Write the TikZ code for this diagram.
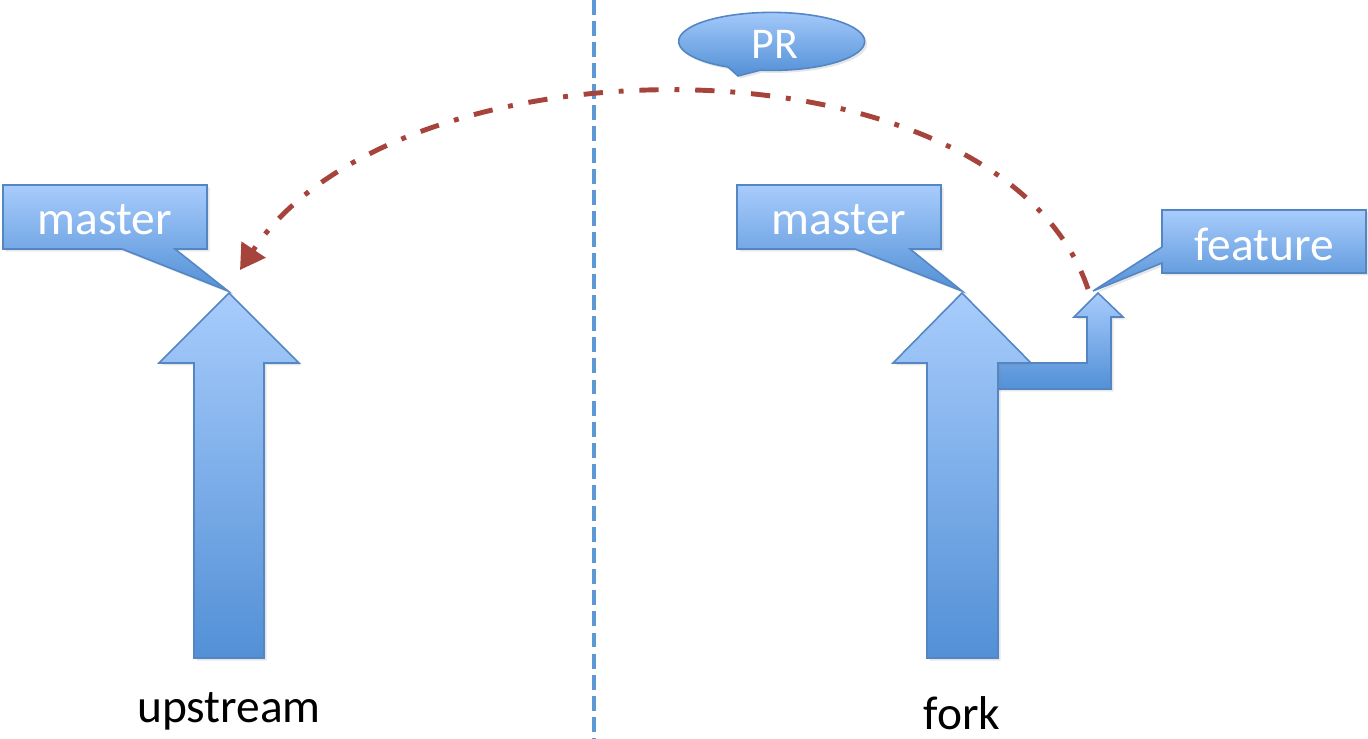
\documentclass[tikz,border=0pt]{standalone}
\usepackage{fontspec}
\setmainfont{Carlito}
\usetikzlibrary{arrows.meta,shadows}

\definecolor{boxtop}{RGB}{168,204,252}
\definecolor{boxbot}{RGB}{82,144,214}
\definecolor{boxline}{RGB}{84,134,196}
\definecolor{prred}{RGB}{166,68,60}
\definecolor{splitblue}{RGB}{92,152,212}

\begin{document}
\begin{tikzpicture}[x=0.02cm,y=-0.02cm,
    blockarrow/.style={top color=boxtop, bottom color=boxbot, draw=boxline, line width=0.9pt, line join=miter,
      drop shadow={opacity=0.2, shadow xshift=0.05cm, shadow yshift=-0.05cm}},
    callout/.style={top color=boxtop, bottom color=boxbot, draw=boxline, line width=0.9pt,
      drop shadow={opacity=0.2, shadow xshift=0.05cm, shadow yshift=-0.05cm}},
    calltext/.style={text=white, inner sep=0pt, font=\fontsize{27}{32}\selectfont},
    caption/.style={text=black, inner sep=0pt, anchor=base, font=\fontsize{27}{32}\selectfont},
    prline/.style={prred, line width=2.8pt, dash pattern=on 11pt off 9pt on 2.8pt off 9pt, -{Triangle[length=14pt,width=16pt]}}]
    \useasboundingbox (0,0) rectangle (1368,739);

    % dividing line between the two repositories
    \draw[splitblue, line width=2.6pt, dash pattern=on 8.5pt off 3.5pt] (594,0) -- (594,739);

    % upstream: master arrow
    \path[blockarrow] (194,658) -- (194,363) -- (159,363) -- (229,293) -- (299,363) -- (264,363) -- (264,658) -- cycle;

    % fork: feature branch (behind), then master arrow
    \path[blockarrow] (990,363) -- (1087,363) -- (1087,317) -- (1074,317) -- (1098,293) -- (1123,317) -- (1111,317) -- (1111,389) -- (990,389) -- cycle;
    \path[blockarrow] (927,658) -- (927,363) -- (893,363) -- (962,293) -- (1031,363) -- (998,363) -- (998,658) -- cycle;

    % callouts
    \path[callout] (3,185) -- (207,185) -- (207,249) -- (175,249) -- (228,291) -- (122,249) -- (3,249) -- cycle;
    \node[calltext] (umaster) at (105,220) {master};

    \path[callout] (737,185) -- (941,185) -- (941,249) -- (910,249) -- (962,291) -- (855,249) -- (737,249) -- cycle;
    \node[calltext] (fmaster) at (839,220) {master};

    \path[callout] (1162,210) -- (1366,210) -- (1366,273) -- (1162,273) -- (1162,263) -- (1093,291) -- (1162,247) -- cycle;
    \node[calltext] (feature) at (1264,244) {feature};

    % pull request bubble
    \path[callout] (728,67) arc[start angle=118, end angle=457, x radius=93, y radius=29] -- (738,76) -- cycle;
    \node[calltext, font=\fontsize{25}{30}\selectfont] (pr) at (775,44) {PR};

    % pull request from fork/feature to upstream/master
    \coordinate (ftip) at (1088,289);
    \coordinate (utip) at (240,270);
    \draw[prline] (ftip) .. controls (1000,30) and (400,30) .. (utip);

    % repository names
    \node[caption] (upstream) at (229,722) {upstream};
    \node[caption] (fork) at (962,729) {fork};
\end{tikzpicture}
\end{document}
